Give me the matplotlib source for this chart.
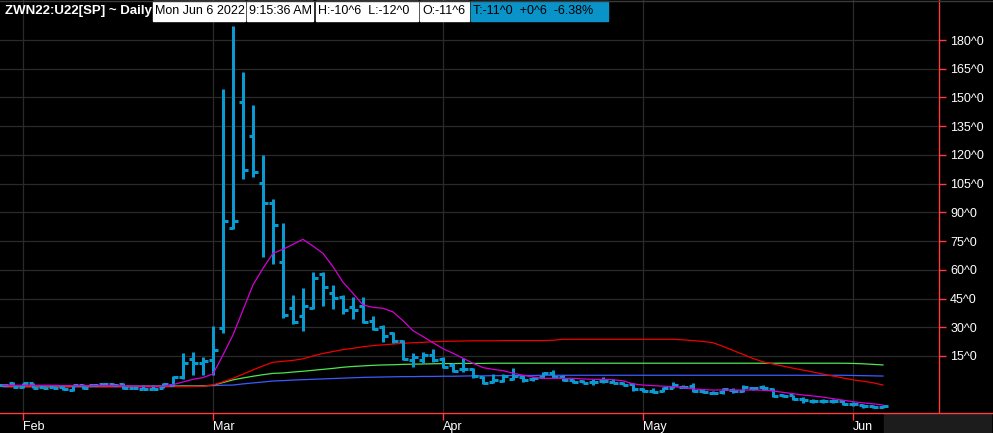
import matplotlib
matplotlib.use("Agg")
import matplotlib.pyplot as plt
import matplotlib.patches as mpatches
from matplotlib.lines import Line2D
import numpy as np
import pandas as pd

plt.rcParams["font.family"] = ["Liberation Sans", "DejaVu Sans"]

# trading days shown on the chart (CBOT calendar, Jan 28 - Jun 6 2022)
holidays = ["2022-02-21", "2022-04-15", "2022-05-30"]
dates = pd.bdate_range("2022-01-28", "2022-06-06", freq="C", holidays=holidays)

# spread prices
opens = [0.0, 0.9, -1.2, 0.9, -1.2, -1.2, -1.2, -2.6, 0.0, -0.3,
         0.5, 0.5, 0.4, -1.8, -2.3, -2.3, -1.8, -0.3, 3.9, 13.3,
         11.2, 12.9, 29.5, 81.7, 147.5, 129.7, 105.2, 94.9, 63.9, 40.1,
         35.9, 40.1, 57.8, 47.7, 46.0, 40.4, 41.3, 33.4, 30.3, 27.0,
         22.7, 12.9, 12.9, 15.4, 13.4, 10.3, 8.2, 8.2, 4.0, 1.4,
         1.9, 3.0, 4.2, 3.0, 3.9, 6.3, 4.0, 2.5, 2.0, 1.5,
         2.0, 1.5, 1.0, 0.2, -2.5, -3.1, -3.5, -1.9, -1.0, -0.5,
         -3.1, -4.2, -4.0, -3.0, -3.1, -1.5, -1.0, -2.5, -5.5, -5.5,
         -7.3, -8.5, -8.5, -8.5, -8.5, -10.0, -10.6, -11.4, -11.75]
highs = [0.4, 1.4, 1.0, 1.0, -0.7, -0.7, -0.7, -0.2, 0.4, 0.4,
         0.9, 0.9, 0.9, -1.6, -0.2, -0.2, 0.9, 4.5, 16.7, 17.2,
         14.6, 30.7, 154.4, 187.3, 163.3, 146.1, 119.9, 97.0, 84.4, 46.8,
         50.5, 58.9, 58.9, 52.1, 46.7, 45.6, 45.6, 35.7, 31.0, 27.4,
         23.3, 16.4, 16.9, 18.6, 14.3, 11.2, 13.8, 8.7, 4.5, 5.4,
         5.4, 8.6, 4.9, 4.0, 6.8, 7.7, 4.9, 3.0, 2.4, 2.8,
         3.9, 2.8, 1.6, 0.7, -1.9, -1.9, -1.0, 1.4, -0.2, 1.0,
         -2.4, -3.1, -1.9, -1.9, -0.2, -1.0, -0.2, -1.9, -4.9, -5.4,
         -6.6, -7.6, -7.6, -7.6, -8.0, -8.9, -10.1, -10.6, -10.75]
lows = [-0.7, -0.3, -1.5, -1.9, -2.0, -2.0, -2.8, -3.1, -2.1, -0.7,
        -0.7, -0.7, -2.1, -2.1, -2.5, -2.5, -2.0, -0.5, 3.0, 5.1,
        5.1, 5.1, 27.2, 81.1, 107.6, 108.6, 66.8, 63.2, 34.7, 31.5,
        28.2, 39.4, 41.3, 39.7, 36.8, 34.5, 32.1, 28.4, 22.5, 21.6,
        12.7, 9.4, 11.2, 12.0, 8.9, 6.8, 6.8, 3.3, 0.2, 0.7,
        1.3, 2.5, 1.3, 1.9, 3.3, 3.3, 1.9, 0.7, 0.7, -0.3,
        1.0, 0.7, -0.2, -3.1, -3.7, -4.5, -3.7, -1.9, -1.9, -3.7,
        -4.2, -4.9, -4.9, -4.2, -3.7, -2.8, -2.8, -6.3, -6.6, -8.0,
        -9.4, -9.4, -9.4, -9.4, -10.6, -11.1, -12.3, -12.3, -12.0]
closes = [-0.3, -1.2, 0.9, -1.5, -1.7, -1.5, -2.4, -0.3, -1.9, -0.3,
          0.5, 0.0, -1.9, -1.8, -2.3, -2.3, 0.5, 3.9, 11.2, 11.2,
          12.5, 18.1, 85.3, 85.3, 112.0, 110.9, 94.9, 83.2, 36.2, 32.6,
          41.1, 55.7, 50.9, 45.1, 39.0, 39.0, 32.7, 29.1, 25.3, 22.8,
          13.3, 14.6, 15.4, 12.9, 9.4, 7.3, 8.2, 4.5, 1.0, 2.5,
          4.5, 4.5, 2.5, 3.5, 6.0, 4.0, 2.5, 1.4, 1.0, 1.4,
          1.7, 1.0, 0.0, -2.5, -3.1, -3.9, -2.0, -0.3, -1.0, -3.3,
          -3.9, -4.2, -2.5, -3.5, -1.0, -1.5, -1.7, -5.8, -5.8, -7.3,
          -8.2, -8.5, -8.5, -8.5, -10.3, -10.0, -11.4, -11.75, -11.0]

# moving averages as drawn
ma_magenta = [-0.3, -0.3, -0.3, -0.3, -0.3, -0.3, -0.5, -0.5, -0.5, -0.5,
              -0.5, -0.5, -0.6, -0.7, -0.8, -0.8, -0.8, 0.0, 1.4, 2.8,
              3.7, 5.6, 15.5, 26.0, 39.0, 52.1, 60.8, 68.6, 70.7, 73.3,
              75.9, 72.4, 68.6, 61.6, 53.5, 47.7, 41.6, 40.4, 39.9, 38.0,
              33.4, 28.2, 25.1, 21.9, 18.8, 16.4, 13.8, 11.2, 8.9, 8.0,
              7.3, 6.0, 4.9, 4.0, 3.3, 3.3, 3.3, 3.3, 3.0, 2.8,
              2.7, 2.6, 2.0, 0.4, -0.2, -0.5, -0.8, -1.0, -1.6, -2.2,
              -2.6, -2.8, -2.8, -2.8, -2.8, -2.8, -2.9, -3.3, -4.0, -4.7,
              -5.4, -5.9, -6.5, -7.3, -8.1, -8.9, -9.5, -10.0, -10.6]
ma_red = [-1.2, -1.2, -1.2, -1.2, -1.2, -1.2, -1.2, -1.2, -1.2, -1.2,
          -1.2, -1.2, -1.2, -1.2, -1.2, -1.2, -1.2, -1.1, -1.0, -0.9,
          -0.8, -0.2, 1.5, 3.3, 5.5, 7.7, 9.8, 11.7, 12.2, 12.7,
          13.5, 15.0, 16.3, 17.3, 18.3, 19.0, 19.8, 20.4, 20.8, 21.2,
          21.6, 21.9, 22.1, 22.4, 22.6, 22.7, 22.8, 22.9, 22.9, 22.9,
          23.0, 23.0, 23.0, 23.0, 23.0, 23.2, 23.7, 23.7, 23.7, 23.7,
          23.7, 23.7, 23.7, 23.7, 23.7, 23.7, 23.7, 23.7, 23.4, 23.0,
          22.6, 21.9, 20.0, 17.9, 15.8, 13.7, 11.9, 10.8, 9.7, 8.6,
          7.6, 6.6, 5.5, 4.5, 3.5, 2.5, 1.8, 1.0, -0.2]
ma_green = [-0.8, -0.8, -0.8, -0.8, -0.8, -0.8, -0.8, -0.8, -0.8, -0.8,
            -0.8, -0.8, -0.8, -0.8, -0.8, -0.8, -0.8, -0.8, -0.7, -0.7,
            -0.6, -0.3, 1.1, 2.5, 3.5, 4.4, 5.2, 5.9, 6.1, 6.6,
            7.0, 7.5, 8.0, 8.5, 9.1, 9.5, 9.8, 10.1, 10.3, 10.4,
            10.6, 10.7, 10.8, 10.9, 11.0, 11.0, 11.1, 11.1, 11.1, 11.2,
            11.2, 11.2, 11.2, 11.2, 11.2, 11.2, 11.2, 11.2, 11.2, 11.2,
            11.2, 11.2, 11.2, 11.2, 11.2, 11.2, 11.2, 11.2, 11.2, 11.2,
            11.2, 11.2, 11.2, 11.2, 11.2, 11.2, 11.2, 11.2, 11.2, 11.2,
            11.2, 11.2, 11.2, 11.2, 11.2, 11.1, 10.9, 10.6, 10.3]
ma_blue = [-1.0, -1.0, -1.0, -1.0, -1.0, -1.0, -1.0, -1.0, -1.0, -1.0,
           -1.0, -1.0, -1.0, -1.0, -0.9, -0.9, -0.9, -0.9, -0.8, -0.8,
           -0.7, -0.5, -0.3, -0.2, 0.4, 0.9, 1.4, 1.9, 2.1, 2.4,
           2.6, 2.8, 3.0, 3.2, 3.4, 3.6, 3.8, 3.9, 4.0, 4.1,
           4.2, 4.2, 4.3, 4.3, 4.4, 4.4, 4.5, 4.6, 4.6, 4.7,
           4.7, 4.8, 4.8, 4.8, 4.9, 4.9, 4.9, 4.9, 4.9, 4.9,
           4.9, 4.9, 4.9, 4.9, 4.9, 4.9, 4.9, 4.9, 4.9, 4.9,
           4.9, 4.9, 4.9, 4.9, 4.9, 4.9, 4.9, 4.9, 4.9, 4.9,
           4.9, 4.9, 4.9, 4.9, 4.9, 4.8, 4.7, 4.6, 4.5]

y_ticks = [15, 30, 45, 60, 75, 90, 105, 120, 135, 150, 165, 180]
y_labels = [f"{v}^0" for v in y_ticks]

title = "ZWN22:U22[SP] ~ Daily"
header_boxes = ["Mon Jun 6 2022", "9:15:36 AM", "H:-10^6  L:-12^0", "O:-11^6"]
last_box = "T:-11^0  +0^6  -6.38%"

W, H = 993, 433
BAR_C = "#0a9ad2"
AX_RED = "#ff3b3b"
GRID_C = "#2a2a2a"

fig = plt.figure(figsize=(W / 100, H / 100), dpi=100, facecolor="black")
ax = fig.add_axes([0, 20 / H, 939 / W, 1 - 20 / H], facecolor="black")

x = np.arange(len(dates))
px = 0.72  # one pixel in points

# moving averages first, bars on top
ax.plot(x, ma_blue, color="#3b5bff", lw=0.9, zorder=2)
ax.plot(x, ma_green, color="#4ee64e", lw=0.9, zorder=2)
ax.plot(x, ma_red, color="#f00000", lw=0.9, zorder=2)

# OHLC bars
ax.vlines(x, lows, highs, color=BAR_C, lw=3 * px, zorder=3)
ax.hlines(opens, x - 0.45, x, color=BAR_C, lw=3 * px, zorder=3)
ax.hlines(closes, x, x + 0.45, color=BAR_C, lw=3 * px, zorder=3)

ax.plot(x, ma_magenta, color="#d400d4", lw=0.9, zorder=4)

ax.set_xlim(-0.3, 93.6)
ax.set_ylim(-14.8, 200.9)

# month ticks at first trading day of each month
month_pos = [i for i in range(1, len(dates)) if dates[i].month != dates[i - 1].month]
ax.set_xticks(month_pos)
ax.set_xticklabels([dates[i].strftime("%b") for i in month_pos], ha="left")
ax.set_yticks(y_ticks)
ax.set_yticklabels(y_labels)
ax.yaxis.tick_right()

ax.tick_params(axis="both", colors=AX_RED, labelcolor="white", labelsize=9,
               length=5, width=1, direction="out")
ax.tick_params(axis="x", pad=1)
ax.tick_params(axis="y", pad=3)

ax.grid(True, color=GRID_C, lw=0.9)
ax.set_axisbelow(True)
for side in ["top", "left", "bottom"]:
    ax.spines[side].set_visible(False)
ax.spines["right"].set_color(AX_RED)
ax.spines["right"].set_linewidth(1.0)

# bottom red rule spans the whole window, dark box under the price scale
fig.add_artist(Line2D([0, 1], [20 / H, 20 / H], color=AX_RED, lw=1.0,
                      transform=fig.transFigure))
fig.add_artist(mpatches.Rectangle((884 / W, 0), (991 - 884) / W, 19 / H,
                                  color="#1c1c1c", transform=fig.transFigure))
fig.add_artist(Line2D([0, 1], [1 - 0.5 / H, 1 - 0.5 / H], color="#3a3a3a", lw=1.0,
                      transform=fig.transFigure))

# header
fig.text(5 / W, 1 - 11 / H, title, color="white", fontsize=9.5,
         fontweight="bold", va="center", ha="left")
spans = [(153, 245), (247, 313), (316, 418), (420, 469)]
for (x0, x1), txt in zip(spans, header_boxes):
    fig.add_artist(mpatches.Rectangle((x0 / W, 1 - 21 / H), (x1 - x0) / W, 20 / H,
                                      color="white", transform=fig.transFigure))
    fig.text((x0 + 2) / W, 1 - 11 / H, txt, color="black", fontsize=9,
             va="center", ha="left")
fig.add_artist(mpatches.Rectangle((471 / W, 1 - 21 / H), (608 - 471) / W, 20 / H,
                                  color="#0a93c9", transform=fig.transFigure))
fig.text(473 / W, 1 - 11 / H, last_box, color="black", fontsize=9,
         va="center", ha="left")

fig.savefig("out.png", dpi=100, facecolor="black")
